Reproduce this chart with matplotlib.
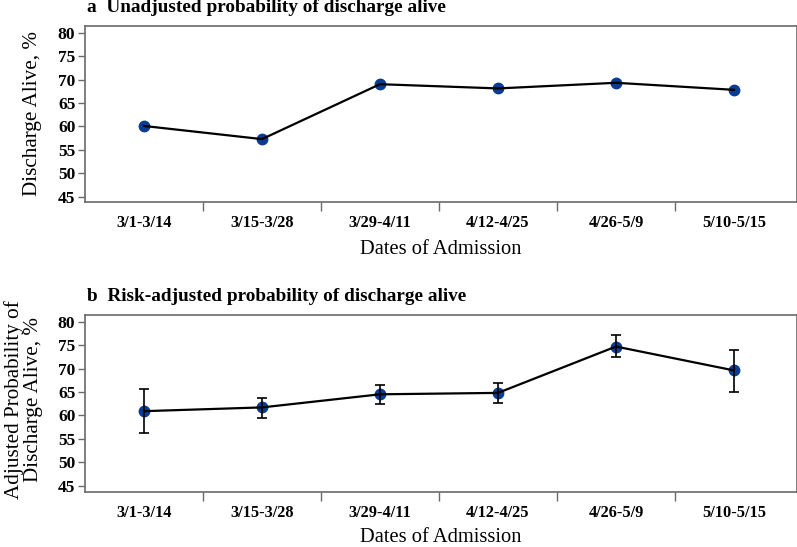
import matplotlib
matplotlib.use("Agg")
import matplotlib.pyplot as plt
import numpy as np

categories = ["3/1-3/14", "3/15-3/28", "3/29-4/11", "4/12-4/25", "4/26-5/9", "5/10-5/15"]
unadjusted = [60.1, 57.3, 69.0, 68.1, 69.3, 67.8]
adjusted = [60.9, 61.7, 64.5, 64.8, 74.7, 69.6]
adj_lower = [56.3, 59.5, 62.5, 62.7, 72.4, 64.9]
adj_upper = [65.6, 63.8, 66.5, 67.0, 77.2, 74.0]
yticks = [45, 50, 55, 60, 65, 70, 75, 80]

plt.rcParams['font.family'] = ['Liberation Serif', 'DejaVu Serif']

W, H = 797, 547
fig = plt.figure(figsize=(W / 100, H / 100), dpi=100)

spine_col = "#6a6a6a"
marker_col = "#0a3c96"

def px_axes(left, top, right, bottom):
    return fig.add_axes([left / W, 1 - bottom / H, (right - left) / W, (bottom - top) / H])

def style(ax, ylim):
    x = np.arange(len(categories))
    ax.set_xlim(-0.5, 5.53)
    ax.set_ylim(*ylim)
    ax.set_yticks(yticks)
    ax.set_yticklabels([str(t) for t in yticks], fontweight='bold', fontsize=12.5)
    ax.set_xticks(x)
    ax.set_xticklabels(categories, fontweight='bold', fontsize=11.8)
    ax.set_xticks(x[:-1] + 0.5, minor=True)
    ax.tick_params(axis='x', which='major', length=0, pad=9.5)
    ax.tick_params(axis='x', which='minor', length=6.5, width=1, color=spine_col)
    ax.tick_params(axis='y', length=5, width=1, color=spine_col, pad=2)
    for s in ax.spines.values():
        s.set_color(spine_col)
        s.set_linewidth(1.2)
    return x

# Panel a
ax1 = px_axes(85, 26, 796.5, 202)
x = style(ax1, (43.9, 81.4))
ax1.plot(x, unadjusted, 'o', color=marker_col, markersize=7.5, zorder=2)
ax1.plot(x, unadjusted, '-', color='black', linewidth=1.6, zorder=3)
ax1.annotate("a  Unadjusted probability of discharge alive", xy=(0, 1), xycoords='axes fraction',
             xytext=(1.5, 13.5), textcoords='offset points', ha='left', va='center',
             fontweight='bold', fontsize=13.9)
fig.text(33 / W, 1 - 114 / H, "Discharge Alive, %", rotation=90, ha='center', va='center', fontsize=15.2)
fig.text(441 / W, 1 - 250 / H, "Dates of Admission", ha='center', va='center', fontsize=14.8)

# Panel b
ax2 = px_axes(85, 314.7, 796.5, 491.7)
x = style(ax2, (43.7, 81.5))
yerr = [np.array(adjusted) - np.array(adj_lower), np.array(adj_upper) - np.array(adjusted)]
ax2.plot(x, adjusted, 'o', color=marker_col, markersize=7.5, zorder=2)
ax2.errorbar(x, adjusted, yerr=yerr, fmt='none', ecolor='black', elinewidth=1.2, capsize=3.5,
             capthick=1.2, zorder=3)
ax2.plot(x, adjusted, '-', color='black', linewidth=1.6, zorder=3)
ax2.annotate("b  Risk-adjusted probability of discharge alive", xy=(0, 1), xycoords='axes fraction',
             xytext=(1.5, 13), textcoords='offset points', ha='left', va='center',
             fontweight='bold', fontsize=13.9)
fig.text(23.5 / W, 1 - 400 / H, "Adjusted Probability of\nDischarge Alive, %", rotation=90,
         ha='center', va='center', fontsize=15.2, linespacing=1.05)
fig.text(441 / W, 1 - 538 / H, "Dates of Admission", ha='center', va='center', fontsize=14.8)

fig.savefig("out.png", dpi=100)
